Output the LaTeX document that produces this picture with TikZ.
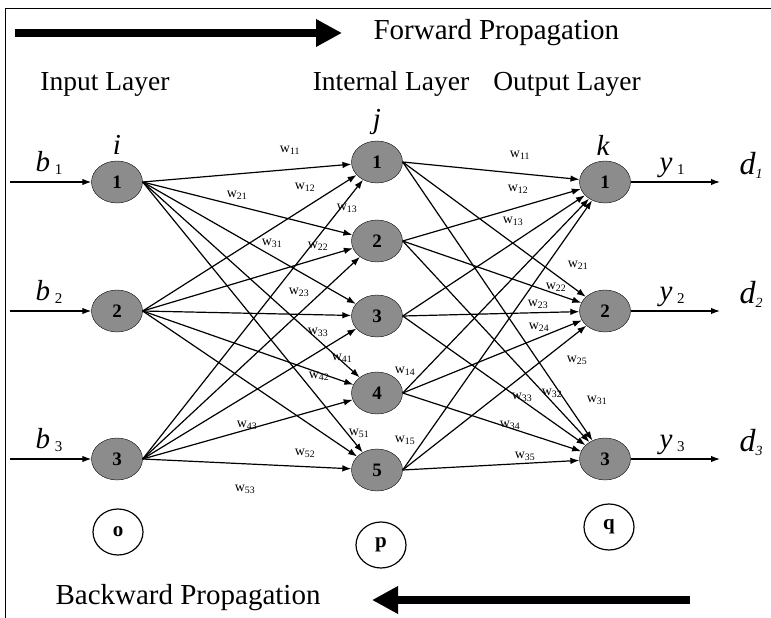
\documentclass[tikz,border=0pt]{standalone}
\usepackage{fontspec}
\setmainfont{Liberation Serif}
\usetikzlibrary{arrows.meta,shapes.geometric}
\definecolor{grisnoeud}{RGB}{140,140,140}

\begin{document}
\begin{tikzpicture}[x=1pt,y=-1pt,
	neurone/.style={ellipse,draw=black,fill=grisnoeud,minimum width=51pt,minimum height=42pt,inner sep=0pt,font=\fontsize{19}{19}\selectfont\bfseries},
	couche/.style={ellipse,draw=black,line width=1.2pt,fill=white,minimum width=50pt,minimum height=46pt,inner sep=0pt,font=\fontsize{21}{21}\selectfont\bfseries},
	lien/.style={-{Latex[length=9pt,width=6.5pt]},line width=1.2pt},
	grosse/.style={line width=8.5pt,-{Triangle[length=26pt,width=26pt]}},
	titre/.style={font=\fontsize{29}{29}\selectfont},
	nomcouche/.style={font=\fontsize{27.5}{27.5}\selectfont},
	poids/.style={font=\fontsize{14}{14}\selectfont,inner sep=0pt},
	indice/.style={font=\fontsize{29}{29}\selectfont\itshape}]
	\useasboundingbox (0,0) rectangle (771,618);
	\draw[line width=1pt] (771,9)--(5,9)--(5,618);

	% propagation arrows
	\coordinate (fa) at (15,33);
	\coordinate (fb) at (342,33);
	\draw[grosse] (fa)--(fb);
	\node[titre,anchor=west] (fwd) at (370,33) {Forward Propagation};
	\coordinate (ba) at (690,600);
	\coordinate (bb) at (372,600);
	\draw[grosse] (ba)--(bb);
	\node[titre,anchor=west] (bwd) at (52,598) {Backward Propagation};

	\node[nomcouche] (lin) at (105,84) {Input Layer};
	\node[nomcouche] (lhid) at (391,84) {Internal Layer};
	\node[nomcouche] (lout) at (567,84) {Output Layer};

	% neurones
	\foreach \n/\y in {1/182,2/311,3/459}{
		\node[neurone] (in\n) at (117,\y) {\n};
		\node[neurone] (out\n) at (605,\y) {\n};
	}
	\foreach \n/\y in {1/162,2/241,3/316,4/393,5/470}
		\node[neurone] (hid\n) at (377,\y) {\n};

	\node[indice] (li) at (117,145) {i};
	\node[indice] (lj) at (377,122) {j};
	\node[indice] (lk) at (603,145) {k};

	% connexions
	\foreach \a in {1,2,3}
		\foreach \b in {1,...,5}{
			\draw[lien] (in\a.east)--(hid\b);
			\draw[lien] (hid\b.east)--(out\a);
		}

	% entrees et sorties
	\foreach \n/\y in {1/182,2/311,3/459}{
		\coordinate (bin\n) at (10,\y);
		\coordinate (dout\n) at (720,\y);
		\draw[lien] (bin\n)--(in\n);
		\draw[lien] (out\n)--(dout\n);
		\node[indice,anchor=base west] (lb\n) at (32,\y-11) {b\,{\upshape\fontsize{15}{15}\selectfont\raisebox{-3pt}{\n}}};
		\node[indice,anchor=base west] (ly\n) at (656,\y-11) {y\,{\upshape\fontsize{15}{15}\selectfont\raisebox{-3pt}{\n}}};
		\node[indice,anchor=base west,font=\fontsize{32}{32}\selectfont\itshape] (ld\n) at (736,\y-8) {d\raisebox{-4pt}{\fontsize{14}{14}\selectfont\n}};
	}

	% poids
	\foreach \x/\y/\t in {290/150/11,237/195/21,305/187/12,347/208/13,272/243/31,318/246/22,
		299/292/23,318/332/33,342/358/41,319/376/42,247/425/43,359/433/51,305/453/52,245/489/53}
		\node[poids] (wa\t) at (\x,\y) {w\textsubscript{\t}};
	\foreach \x/\y/\t in {520/155/11,518/189/12,513/221/13,578/265/21,556/287/22,538/304/23,
		539/327/24,405/371/14,577/360/25,597/400/31,552/393/32,522/397/33,510/425/34,405/440/15,525/456/35}
		\node[poids] (wb\t) at (\x,\y) {w\textsubscript{\t}};

	% couches
	\node[couche] (co) at (118,532) {o};
	\node[couche] (cp) at (381,545) {p};
	\node[couche] (cq) at (609,527) {q};
\end{tikzpicture}
\end{document}
